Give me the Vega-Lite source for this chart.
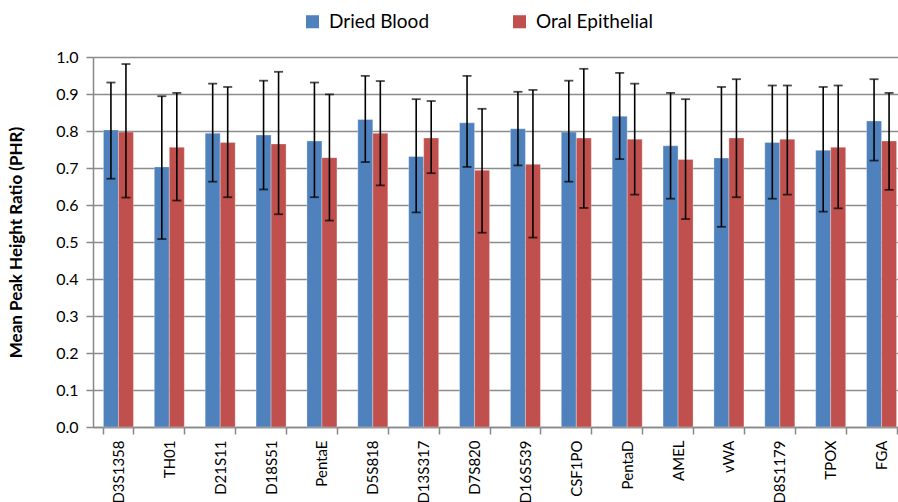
{
  "$schema": "https://vega.github.io/schema/vega-lite/v6.json",
  "width": 814,
  "height": 370,
  "autosize": "none",
  "padding": {"left": 93, "top": 57, "right": 0, "bottom": 75},
  "background": "white",
  "config": {"view": {"stroke": null}, "font": "Lato"},
  "resolve": {"axis": {"y": "independent"}},
  "data": {
    "values": [
      {"marker": "D3S1358", "sample": "Dried Blood", "mean": 0.803, "lo": 0.671, "hi": 0.931},
      {"marker": "D3S1358", "sample": "Oral Epithelial", "mean": 0.797, "lo": 0.620, "hi": 0.981},
      {"marker": "TH01", "sample": "Dried Blood", "mean": 0.703, "lo": 0.508, "hi": 0.894},
      {"marker": "TH01", "sample": "Oral Epithelial", "mean": 0.756, "lo": 0.612, "hi": 0.903},
      {"marker": "D21S11", "sample": "Dried Blood", "mean": 0.794, "lo": 0.663, "hi": 0.928},
      {"marker": "D21S11", "sample": "Oral Epithelial", "mean": 0.769, "lo": 0.621, "hi": 0.919},
      {"marker": "D18S51", "sample": "Dried Blood", "mean": 0.789, "lo": 0.642, "hi": 0.936},
      {"marker": "D18S51", "sample": "Oral Epithelial", "mean": 0.765, "lo": 0.575, "hi": 0.960},
      {"marker": "PentaE", "sample": "Dried Blood", "mean": 0.773, "lo": 0.621, "hi": 0.931},
      {"marker": "PentaE", "sample": "Oral Epithelial", "mean": 0.728, "lo": 0.558, "hi": 0.899},
      {"marker": "D5S818", "sample": "Dried Blood", "mean": 0.831, "lo": 0.716, "hi": 0.949},
      {"marker": "D5S818", "sample": "Oral Epithelial", "mean": 0.794, "lo": 0.653, "hi": 0.935},
      {"marker": "D13S317", "sample": "Dried Blood", "mean": 0.731, "lo": 0.580, "hi": 0.886},
      {"marker": "D13S317", "sample": "Oral Epithelial", "mean": 0.781, "lo": 0.686, "hi": 0.881},
      {"marker": "D7S820", "sample": "Dried Blood", "mean": 0.822, "lo": 0.703, "hi": 0.949},
      {"marker": "D7S820", "sample": "Oral Epithelial", "mean": 0.694, "lo": 0.525, "hi": 0.860},
      {"marker": "D16S539", "sample": "Dried Blood", "mean": 0.806, "lo": 0.707, "hi": 0.906},
      {"marker": "D16S539", "sample": "Oral Epithelial", "mean": 0.710, "lo": 0.512, "hi": 0.911},
      {"marker": "CSF1PO", "sample": "Dried Blood", "mean": 0.797, "lo": 0.663, "hi": 0.936},
      {"marker": "CSF1PO", "sample": "Oral Epithelial", "mean": 0.781, "lo": 0.592, "hi": 0.968},
      {"marker": "PentaD", "sample": "Dried Blood", "mean": 0.840, "lo": 0.724, "hi": 0.957},
      {"marker": "PentaD", "sample": "Oral Epithelial", "mean": 0.778, "lo": 0.628, "hi": 0.928},
      {"marker": "AMEL", "sample": "Dried Blood", "mean": 0.760, "lo": 0.617, "hi": 0.903},
      {"marker": "AMEL", "sample": "Oral Epithelial", "mean": 0.723, "lo": 0.562, "hi": 0.886},
      {"marker": "vWA", "sample": "Dried Blood", "mean": 0.727, "lo": 0.541, "hi": 0.919},
      {"marker": "vWA", "sample": "Oral Epithelial", "mean": 0.781, "lo": 0.621, "hi": 0.940},
      {"marker": "D8S1179", "sample": "Dried Blood", "mean": 0.769, "lo": 0.617, "hi": 0.923},
      {"marker": "D8S1179", "sample": "Oral Epithelial", "mean": 0.778, "lo": 0.628, "hi": 0.923},
      {"marker": "TPOX", "sample": "Dried Blood", "mean": 0.748, "lo": 0.582, "hi": 0.919},
      {"marker": "TPOX", "sample": "Oral Epithelial", "mean": 0.756, "lo": 0.591, "hi": 0.923},
      {"marker": "FGA", "sample": "Dried Blood", "mean": 0.827, "lo": 0.720, "hi": 0.940},
      {"marker": "FGA", "sample": "Oral Epithelial", "mean": 0.773, "lo": 0.641, "hi": 0.903}
    ]
  },
  "encoding": {
    "x": {
      "field": "marker",
      "type": "nominal",
      "sort": null,
      "scale": {"paddingInner": 0.41, "paddingOuter": 0.205},
      "axis": {
        "title": null,
        "labelAngle": -90,
        "labelFontSize": 15,
        "labelColor": "black",
        "labelPadding": 6,
        "tickBand": "extent",
        "tickColor": "#888888",
        "tickSize": 7,
        "tickWidth": 1.5,
        "domainColor": "#888888",
        "domainWidth": 1.5,
        "grid": false
      }
    },
    "xOffset": {
      "field": "sample",
      "type": "nominal",
      "scale": {"paddingInner": 0, "paddingOuter": 0}
    }
  },
  "layer": [
    {
      "mark": {"type": "bar", "stroke": "white", "strokeWidth": 0.5, "strokeOpacity": 0.6},
      "encoding": {
        "y": {
          "field": "mean",
          "type": "quantitative",
          "scale": {"domain": [0, 1], "nice": false},
          "axis": {
            "title": "Mean Peak Height Ratio (PHR)",
            "titleFontSize": 17,
            "titleFontWeight": "bold",
            "titleColor": "black",
            "titlePadding": 30,
            "values": [0, 0.1, 0.2, 0.3, 0.4, 0.5, 0.6, 0.7, 0.8, 0.9, 1.0],
            "labelOverlap": false,
            "format": ".1f",
            "labelFontSize": 16,
            "labelColor": "black",
            "labelPadding": 8,
            "grid": true,
            "gridColor": "#8c8c8c",
            "gridWidth": 1.5,
            "domainColor": "#888888",
            "domainWidth": 1.5,
            "tickColor": "#888888",
            "tickWidth": 1.5,
            "tickSize": 7
          }
        },
        "color": {
          "field": "sample",
          "type": "nominal",
          "scale": {"domain": ["Dried Blood", "Oral Epithelial"], "range": ["#4F81BD", "#C0504D"]},
          "legend": {
            "title": null,
            "orient": "none",
            "direction": "horizontal",
            "legendX": 210,
            "legendY": -45,
            "symbolType": "square",
            "symbolSize": 170,
            "symbolStrokeWidth": 0,
            "labelFontSize": 19,
            "labelColor": "black",
            "labelOffset": 7,
            "columnPadding": 80
          }
        }
      }
    },
    {
      "mark": {"type": "rule", "color": "black", "strokeWidth": 1.6},
      "encoding": {
        "y": {"field": "lo", "type": "quantitative", "axis": null},
        "y2": {"field": "hi"}
      }
    },
    {
      "mark": {"type": "tick", "color": "black", "thickness": 1.8, "size": 9},
      "encoding": {"y": {"field": "hi", "type": "quantitative", "axis": null}}
    },
    {
      "mark": {"type": "tick", "color": "black", "thickness": 1.8, "size": 9},
      "encoding": {"y": {"field": "lo", "type": "quantitative", "axis": null}}
    }
  ]
}
